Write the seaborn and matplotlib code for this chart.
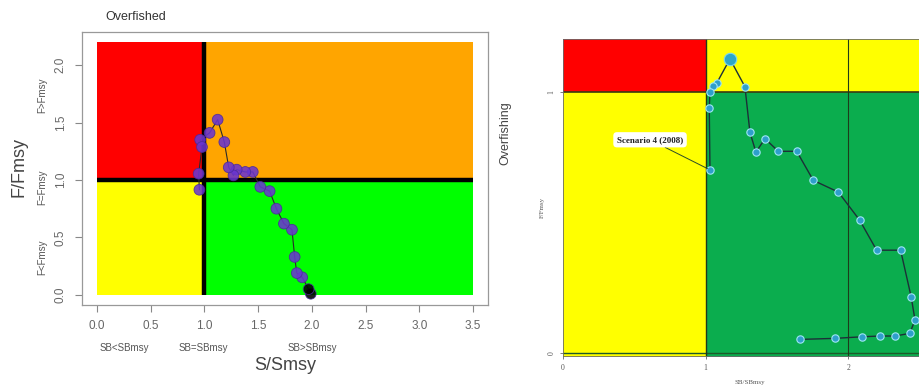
import matplotlib
matplotlib.use("Agg")
import matplotlib.pyplot as plt
import seaborn as sns
import pandas as pd

sns.set_theme(style="white")
plt.rcParams["font.family"] = ["Liberation Sans", "DejaVu Sans"]

# ---- left panel: stock trajectory (S/Smsy vs F/Fmsy), oldest year first ----
left_ssb = [1.99, 1.97, 1.91, 1.86, 1.84, 1.815, 1.74, 1.67, 1.607, 1.52, 1.45,
            1.38, 1.30, 1.27, 1.226, 1.185, 1.123, 1.048, 0.96, 0.977, 0.946, 0.953]
left_f = [0.01, 0.05, 0.153, 0.19, 0.33, 0.567, 0.62, 0.75, 0.903, 0.94, 1.07,
          1.07, 1.09, 1.04, 1.11, 1.33, 1.525, 1.41, 1.35, 1.287, 1.055, 0.915]
left_xticks = [0.0, 0.5, 1.0, 1.5, 2.0, 2.5, 3.0, 3.5]
left_yticks = [0.0, 0.5, 1.0, 1.5, 2.0]
left_sb_labels = ["SB<SBmsy", "SB=SBmsy", "SB>SBmsy"]
left_sb_label_pos = [0.25, 0.99, 2.0]
left_f_labels = ["F<Fmsy", "F=Fmsy", "F>Fmsy"]
left_f_label_pos = [0.33, 0.94, 1.74]
left_xmax, left_ymax = 3.5, 2.2

# ---- right panel: Scenario 4 trajectory (SB/SBmsy vs F/Fmsy) ----
right_ssb = [1.661, 1.906, 2.093, 2.22, 2.327, 2.43, 2.467, 2.44, 2.366, 2.198,
             2.08, 1.93, 1.754, 1.638, 1.509, 1.416, 1.352, 1.31, 1.275, 1.17,
             1.077, 1.049, 1.03, 1.025, 1.03]
right_f = [0.053, 0.057, 0.063, 0.066, 0.066, 0.076, 0.127, 0.216, 0.394, 0.394,
           0.508, 0.616, 0.661, 0.772, 0.772, 0.82, 0.769, 0.845, 1.019, 1.125,
           1.032, 1.023, 0.997, 0.938, 0.701]
right_xticks = [0, 1, 2]
right_yticks = [0, 1]
right_xmax, right_ymax = 2.495, 1.2

W, H = 919, 385
fig = plt.figure(figsize=(W / 100, H / 100), dpi=100)


def box(x0, y0, x1, y1):
    return [x0 / W, 1 - y1 / H, (x1 - x0) / W, (y1 - y0) / H]


# ================= left Kobe plot =================
ax = fig.add_axes(box(82, 32, 488, 305))
ax.set_xlim(-0.04 * left_xmax, left_xmax * 1.04)
ax.set_ylim(-0.04 * left_ymax, left_ymax * 1.04)
ax.fill_between([0, 1], 1, left_ymax, color="#FF0000", lw=0)
ax.fill_between([1, left_xmax], 1, left_ymax, color="#FFA500", lw=0)
ax.fill_between([0, 1], 0, 1, color="#FFFF00", lw=0)
ax.fill_between([1, left_xmax], 0, 1, color="#00FF00", lw=0)
ax.plot([1, 1], [0, left_ymax], color="black", lw=3.2, solid_capstyle="butt")
ax.plot([0, left_xmax], [1, 1], color="black", lw=3.2, solid_capstyle="butt")

left_df = pd.DataFrame({"ssb": left_ssb, "f": left_f})
left_df["col"] = ["black" if i < 2 else "#6A35D0" for i in range(len(left_df))]
sns.lineplot(data=left_df, x="ssb", y="f", sort=False, estimator=None,
             color="#2a2a2a", lw=0.8, ax=ax, zorder=3)
ax.scatter(left_df["ssb"], left_df["f"], s=60, c=left_df["col"],
           edgecolors="#4a2a9a", linewidths=0.6, alpha=0.88, zorder=4)

ax.set_xticks(left_xticks)
ax.set_xticklabels([f"{v:.1f}" for v in left_xticks])
ax.set_yticks(left_yticks)
ax.set_yticklabels([f"{v:.1f}" for v in left_yticks], rotation=90, va="center")
ax.tick_params(axis="both", which="both", direction="out", length=5, width=0.8,
               color="#888888", labelcolor="#666666", labelsize=8.5, pad=6,
               bottom=True, left=True)
for s in ax.spines.values():
    s.set_color("#999999")
    s.set_linewidth(0.9)
ax.set_xlabel("")
ax.set_ylabel("")

for lab, xv in zip(left_sb_labels, left_sb_label_pos):
    ax.annotate(lab, xy=(xv, 0), xycoords=("data", "figure fraction"),
                xytext=(0, H - 348), textcoords="offset pixels",
                ha="center", va="center", fontsize=7, color="#555555")
for lab, yv in zip(left_f_labels, left_f_label_pos):
    ax.annotate(lab, xy=(0, yv), xycoords=("figure fraction", "data"),
                xytext=(42, 0), textcoords="offset pixels", rotation=90,
                ha="center", va="center", fontsize=7, color="#555555")

fig.text(285 / W, 1 - 366 / H, "S/Smsy", ha="center", va="center",
         fontsize=13, color="#444444")
fig.text(19 / W, 1 - 167 / H, "F/Fmsy", ha="center", va="center",
         fontsize=13, color="#444444", rotation=90)
fig.text(105 / W, 1 - 17 / H, "Overfished", ha="left", va="center",
         fontsize=9, color="#333333")
fig.text(505 / W, 1 - 133 / H, "Overfishing", ha="center", va="center",
         fontsize=9, color="#444444", rotation=90)

# ================= right Kobe plot =================
ax2 = fig.add_axes(box(563, 39.3, 919, 355.9))
ax2.set_xlim(0, right_xmax)
ax2.set_ylim(-0.01, right_ymax)
ax2.fill_between([0, 1], 1, right_ymax, color="#FF0000", lw=0)
ax2.fill_between([1, 3], 1, right_ymax, color="#FFFF00", lw=0)
ax2.fill_between([0, 1], -0.02, 1, color="#FFFF00", lw=0)
ax2.fill_between([1, 3], -0.02, 1, color="#0BAD4E", lw=0)
ax2.axhline(1, color="#3a3a10", lw=1.2, zorder=2)
ax2.axhline(0, color="#1e5a2a", lw=1.0, zorder=2)
ax2.axvline(1, color="#1e3a1a", lw=1.0, zorder=2)
ax2.axvline(2, color="#1e3a1a", lw=0.8, zorder=2)

right_df = pd.DataFrame({"ssb": right_ssb, "f": right_f})
sns.lineplot(data=right_df, x="ssb", y="f", sort=False, estimator=None,
             color="#1c3038", lw=1.0, ax=ax2, zorder=3)
sns.scatterplot(data=right_df, x="ssb", y="f", s=28, color="#2E9FCB",
                edgecolor="#9FE6F5", linewidth=0.8, ax=ax2, zorder=4)
peak = right_df["f"].idxmax()
ax2.scatter([right_df.loc[peak, "ssb"]], [right_df.loc[peak, "f"]], s=80,
            color="#2EA6C8", edgecolors="#7FD8EA", linewidths=0.8, zorder=5)

last = right_df.iloc[-1]
ax2.annotate("Scenario 4 (2008)", xy=(last["ssb"], last["f"]),
             xytext=(0.61, 0.816), textcoords="data",
             ha="center", va="center", fontsize=6.5, fontweight="bold",
             family="Liberation Serif", color="#222222",
             bbox=dict(boxstyle="round,pad=0.4", fc="white", ec="none"),
             arrowprops=dict(arrowstyle="-", color="#2a4a2a", lw=0.7,
                             shrinkA=0, shrinkB=2), zorder=6)

ax2.set_xticks(right_xticks)
ax2.set_xticklabels([str(v) for v in right_xticks], family="Liberation Serif")
ax2.set_yticks(right_yticks)
ax2.set_yticklabels([str(v) for v in right_yticks], rotation=90, va="center",
                    family="Liberation Serif")
ax2.tick_params(axis="both", direction="out", length=2.5, width=0.6,
                color="#666666", labelcolor="#555555", labelsize=5.5, pad=3,
                bottom=True, left=True)
ax2.set_xlabel("SB/SBmsy", fontsize=5, color="#555555", family="Liberation Serif")
ax2.xaxis.set_label_coords((750 - 563) / (919 - 563), -0.075)
ax2.set_ylabel("F/Fmsy", fontsize=5, color="#555555", family="Liberation Serif")
ax2.yaxis.set_label_coords(-0.05, 0.47)
for s in ax2.spines.values():
    s.set_color("#6a6a6a")
    s.set_linewidth(0.6)
ax2.spines["right"].set_visible(False)

fig.savefig("out.png", dpi=100)
